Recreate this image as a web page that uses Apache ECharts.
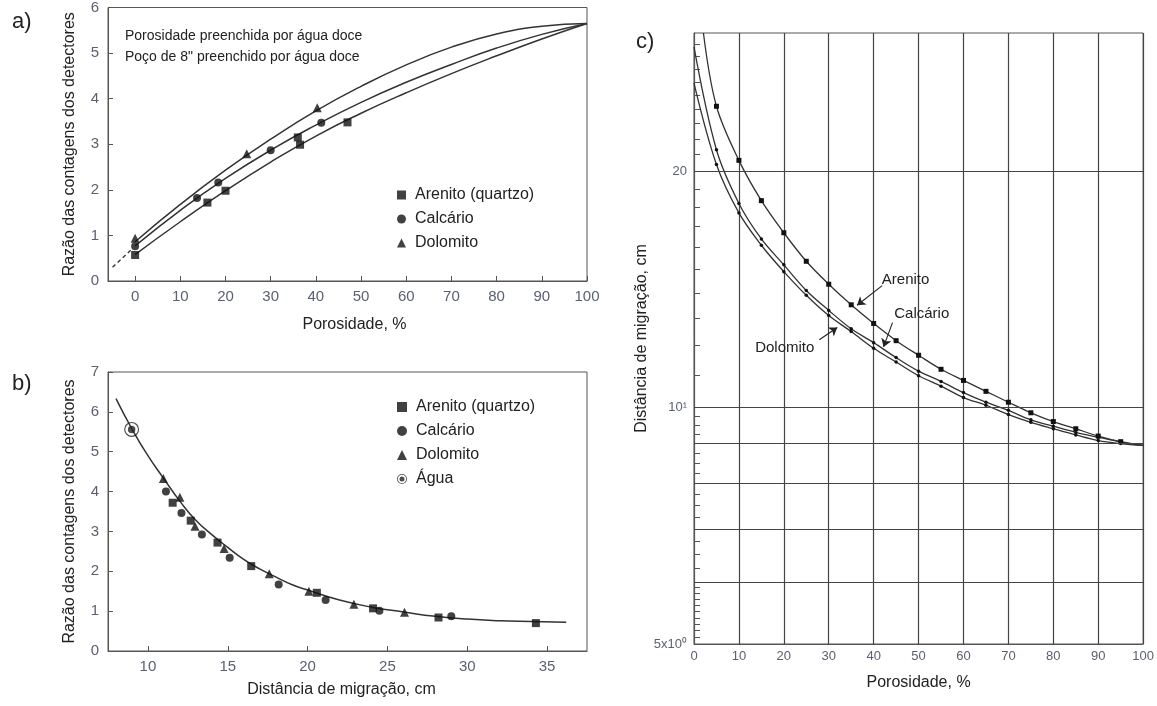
<!DOCTYPE html>
<html><head><meta charset="utf-8">
<script src="https://cdn.jsdelivr.net/npm/echarts@6/dist/echarts.min.js"></script>
<style>html,body{margin:0;padding:0;background:#fff}#c{width:1157px;height:706px}</style>
</head><body><div id="c"></div>
<script>
// ---------- Panel a ----------
const aXTicks = [0,10,20,30,40,50,60,70,80,90,100];
const aArenito = [[0,0.57],[16,1.72],[20,1.98],[36,3.15],[36.5,2.99],[47,3.48]];
const aCalcario = [[0,0.76],[13.7,1.82],[18.4,2.16],[30,2.87],[41.2,3.47]];
const aDolomito = [[0,0.94],[24.7,2.79],[40.3,3.8]];
const aCurveX = [0,10,20,30,40,50,60,70,80,90,100];
const aCurveArenito = [0.58,1.30,1.98,2.61,3.18,3.68,4.13,4.55,4.94,5.31,5.65];
const aCurveCalcario = [0.77,1.55,2.25,2.87,3.42,3.92,4.36,4.75,5.11,5.41,5.65];
const aCurveDolomito = [0.86,1.68,2.43,3.11,3.73,4.27,4.74,5.13,5.42,5.59,5.65];
const aDashed = [[-5,0.3],[-0.5,0.72]];
const aNotes = ['Porosidade preenchida por água doce','Poço de 8" preenchido por água doce'];

// ---------- Panel b ----------
const bXTicks = [10,15,20,25,30,35];
const bArenito = [[11.55,3.72],[12.68,3.27],[14.36,2.72],[16.47,2.13],[20.58,1.46],[24.1,1.07],[28.2,0.84],[34.3,0.70]];
const bCalcario = [[11.13,4.0],[12.1,3.46],[13.38,2.92],[15.12,2.34],[18.19,1.67],[21.13,1.28],[24.5,1.01],[29.0,0.87]];
const bDolomito = [[10.97,4.33],[12.0,3.86],[12.95,3.13],[14.77,2.57],[17.6,1.94],[20.08,1.50],[22.9,1.17],[26.07,0.97]];
const bAgua = [[8.98,5.56]];
const bCurveX = [8.0,9,10,11,12,13,14,15,16,17,18,19,20,22,24,26,28,30,32,34,36.2];
const bCurveY = [6.33,5.57,4.9,4.32,3.76,3.28,2.92,2.6,2.3,2.06,1.86,1.67,1.53,1.28,1.1,0.98,0.87,0.8,0.76,0.74,0.72];

// ---------- Panel c ----------
const cX = [5,10,15,20,25,30,35,40,45,50,55,60,65,70,75,80,85,90,95];
const cArenito = [24.2,20.65,18.35,16.7,15.36,14.36,13.52,12.8,12.17,11.66,11.19,10.83,10.49,10.16,9.85,9.6,9.4,9.2,9.05];
const cCalcario = [21.3,18.2,16.4,15.2,14.1,13.3,12.6,12.1,11.58,11.13,10.8,10.45,10.16,9.92,9.65,9.47,9.3,9.17,9.04];
const cDolomito = [20.4,17.7,16.1,14.9,13.9,13.1,12.5,11.9,11.43,10.98,10.65,10.3,10.07,9.8,9.58,9.4,9.23,9.08,9.0];
const cArenitoEnds = [[2.1,30],[100,8.95]];
const cCalcarioEnds = [[0,28.8],[100,8.95]];
const cDolomitoEnds = [[0,25.9],[100,8.95]];
const cYLabelValues = [5,10,20];
const cYLabelTexts = ['5x10⁰','10¹','20'];
const cGridValues = [6,7,8,9,10,20];
const cMinorTicks = [5.1,5.2,5.3,5.4,5.5,5.6,5.7,5.8,5.9,6.25,6.5,6.75,7.25,7.5,7.75,8.25,8.5,8.75,9.25,9.5,9.75,
  11,12,13,14,15,16,17,18,19,21,22,23,24,25,26,27,28,29];
const cLabels = [['Arenito',47.1,14.56],['Calcário',50.7,13.18],['Dolomito',20.2,11.9]];
const cArrows = [[[41.9,14.3],[36.3,13.5]],[[44.2,12.83],[42.2,11.95]],[[27.9,12.2],[31.9,12.65]]];

const tickFont = "'Liberation Sans Narrow','Arial Narrow',sans-serif";
const textFont = "'Liberation Sans',Arial,sans-serif";
const lineCol = '#333';
const axisCol = '#555';
const labCol = '#5a6072';
const mk = '#111';
const aguaPath = 'path://M10 0A10 10 0 1 1 -10 0A10 10 0 1 1 10 0ZM8.4 0A8.4 8.4 0 1 0 -8.4 0A8.4 8.4 0 1 0 8.4 0ZM5 0A5 5 0 1 1 -5 0A5 5 0 1 1 5 0Z';

const zip = (xs, ys) => xs.map((x,i)=>[x, ys[i]]);
const nameStyle = {color:'#222', fontSize:16, fontFamily:textFont};
function valAxis(o){
  return Object.assign({
    type:'value',
    axisLine:{show:true, onZero:false, lineStyle:{color:axisCol, width:1}},
    axisTick:{show:true, inside:true, length:5, lineStyle:{color:axisCol}},
    axisLabel:{color:labCol, fontSize:15, fontFamily:tickFont},
    splitLine:{show:false},
    nameLocation:'middle', nameTextStyle:nameStyle
  }, o);
}
function cLine(name, ys, ends, sym, size){
  const data = [{value:ends[0], symbol:'none'}].concat(zip(cX, ys)).concat([{value:ends[1], symbol:'none'}]);
  return {name, type:'line', xAxisIndex:2, yAxisIndex:2, data, smooth:0.35, symbol:sym, symbolSize:size,
    showAllSymbol:true, itemStyle:{color:mk}, lineStyle:{color:lineCol, width:1.3}, silent:true, z:4};
}

const option = {
  animation:false,
  backgroundColor:'#fff',
  grid:[
    {left:108, top:6, width:479, height:275, show:true, borderColor:axisCol, borderWidth:1},
    {left:108, top:372, width:479, height:279, show:true, borderColor:axisCol, borderWidth:1},
    {left:694, top:33, width:452, height:611, show:true, borderColor:axisCol, borderWidth:1}
  ],
  xAxis:[
    valAxis({gridIndex:0, min:-6, max:100, name:'Porosidade, %', nameGap:36,
      nameTextStyle:Object.assign({}, nameStyle, {padding:[0,0,0,14]}),
      axisTick:{inside:true, length:5, customValues:aXTicks, lineStyle:{color:axisCol}},
      axisLabel:{customValues:aXTicks, color:labCol, fontSize:15, fontFamily:tickFont, margin:8}}),
    valAxis({gridIndex:1, min:7.5, max:37.5, name:'Distância de migração, cm', nameGap:31,
      nameTextStyle:Object.assign({}, nameStyle, {padding:[0,12,0,0]}),
      axisTick:{inside:true, length:5, customValues:bXTicks, lineStyle:{color:axisCol}},
      axisLabel:{customValues:bXTicks, color:labCol, fontSize:15, fontFamily:tickFont, margin:8}}),
    valAxis({gridIndex:2, min:0, max:100, interval:10, name:'Porosidade, %', nameGap:31,
      axisTick:{show:false},
      axisLabel:{color:labCol, fontSize:13, fontFamily:tickFont, margin:6},
      splitLine:{show:true, lineStyle:{color:'#444', width:1.2}}})
  ],
  yAxis:[
    valAxis({gridIndex:0, min:0, max:6, interval:1, name:'Razão das contagens dos detectores', nameGap:30,
      axisLabel:{color:labCol, fontSize:15, fontFamily:tickFont, margin:9}}),
    valAxis({gridIndex:1, min:0, max:7, interval:1, name:'Razão das contagens dos detectores', nameGap:30,
      axisLabel:{color:labCol, fontSize:15, fontFamily:tickFont, margin:9}}),
    {gridIndex:2, type:'log', logBase:10, min:5, max:30, name:'Distância de migração, cm', nameLocation:'middle', nameGap:36,
      nameTextStyle:nameStyle,
      axisLine:{show:true, onZero:false, lineStyle:{color:axisCol}},
      axisTick:{show:true, inside:true, length:6, customValues:cMinorTicks, lineStyle:{color:axisCol}},
      axisLabel:{customValues:cYLabelValues, color:labCol, fontSize:13, fontFamily:tickFont, margin:7,
        formatter:(v)=>{const i=cYLabelValues.indexOf(Math.round(v*1000)/1000); return i>=0?cYLabelTexts[i]:'';}},
      splitLine:{show:false}}
  ],
  legend:[
    {left:392, top:180, orient:'vertical', itemGap:4, itemWidth:9, itemHeight:9, selectedMode:false,
      textStyle:{color:'#222', fontSize:16, fontFamily:textFont, lineHeight:20, padding:[0,0,0,4]},
      data:['Arenito (quartzo)','Calcário','Dolomito']},
    {left:392, top:392, orient:'vertical', itemGap:4, itemWidth:10, itemHeight:10, selectedMode:false,
      textStyle:{color:'#222', fontSize:16, fontFamily:textFont, lineHeight:20, padding:[0,0,0,4]},
      data:['Arenito (quartzo)','Calcário','Dolomito','Água']}
  ],
  graphic:[
    {type:'text', left:12, top:11, style:{text:'a)', fontSize:22, fontFamily:textFont, fill:'#222'}},
    {type:'text', left:12, top:373, style:{text:'b)', fontSize:22, fontFamily:textFont, fill:'#222'}},
    {type:'text', left:636, top:31, style:{text:'c)', fontSize:22, fontFamily:textFont, fill:'#222'}},
    {type:'text', left:125, top:29, style:{text:aNotes[0], fontSize:14, fontFamily:textFont, fill:'#222'}},
    {type:'text', left:125, top:50, style:{text:aNotes[1], fontSize:14, fontFamily:textFont, fill:'#222'}}
  ],
  series:[
    // panel a markers
    {name:'Arenito (quartzo)', type:'scatter', xAxisIndex:0, yAxisIndex:0, data:aArenito, symbol:'rect', symbolSize:8, itemStyle:{color:mk}, z:5},
    {name:'Calcário', type:'scatter', xAxisIndex:0, yAxisIndex:0, data:aCalcario, symbol:'circle', symbolSize:8, itemStyle:{color:mk}, z:5},
    {name:'Dolomito', type:'scatter', xAxisIndex:0, yAxisIndex:0, data:aDolomito, symbol:'triangle', symbolSize:9, itemStyle:{color:mk}, z:5},
    // panel b markers
    {name:'Arenito (quartzo)', type:'scatter', xAxisIndex:1, yAxisIndex:1, data:bArenito, symbol:'rect', symbolSize:8, itemStyle:{color:mk}, z:5},
    {name:'Calcário', type:'scatter', xAxisIndex:1, yAxisIndex:1, data:bCalcario, symbol:'circle', symbolSize:8, itemStyle:{color:mk}, z:5},
    {name:'Dolomito', type:'scatter', xAxisIndex:1, yAxisIndex:1, data:bDolomito, symbol:'triangle', symbolSize:9, itemStyle:{color:mk}, z:5},
    {name:'Água', type:'scatter', xAxisIndex:1, yAxisIndex:1, data:bAgua, symbol:aguaPath, symbolSize:15, itemStyle:{color:'#222'}, z:5},
    // panel a curves
    {name:'curva a Arenito', type:'line', xAxisIndex:0, yAxisIndex:0, data:zip(aCurveX,aCurveArenito), smooth:true, showSymbol:false, lineStyle:{color:lineCol, width:1.5}, silent:true},
    {name:'curva a Calcário', type:'line', xAxisIndex:0, yAxisIndex:0, data:zip(aCurveX,aCurveCalcario), smooth:true, showSymbol:false, lineStyle:{color:lineCol, width:1.5}, silent:true},
    {name:'curva a Dolomito', type:'line', xAxisIndex:0, yAxisIndex:0, data:zip(aCurveX,aCurveDolomito), smooth:true, showSymbol:false, lineStyle:{color:lineCol, width:1.5}, silent:true},
    {name:'extrapolação a', type:'line', xAxisIndex:0, yAxisIndex:0, data:aDashed, showSymbol:false, lineStyle:{color:lineCol, width:1.3, type:[4,3]}, silent:true},
    // panel b curve
    {name:'curva b', type:'line', xAxisIndex:1, yAxisIndex:1, data:zip(bCurveX,bCurveY), smooth:true, showSymbol:false, lineStyle:{color:lineCol, width:1.5}, silent:true},
    // panel c
    cLine('c Arenito', cArenito, cArenitoEnds, 'rect', 5),
    cLine('c Calcário', cCalcario, cCalcarioEnds, 'circle', 3.5),
    cLine('c Dolomito', cDolomito, cDolomitoEnds, 'circle', 3.5),
    {name:'c anotações', type:'scatter', xAxisIndex:2, yAxisIndex:2, data:[], silent:true,
      markLine:{silent:true, symbol:'none', animation:false, label:{show:false},
        lineStyle:{color:'#444', width:1.2, type:'solid'},
        data:cGridValues.map(v=>({yAxis:v}))},
      markPoint:{silent:true, symbol:'circle', symbolSize:1, itemStyle:{color:'rgba(0,0,0,0)'},
        label:{show:true, position:'inside', color:'#222', fontSize:15, fontFamily:textFont, formatter:'{b}'},
        data:cLabels.map(l=>({name:l[0], coord:[l[1],l[2]]}))}
    },
    {name:'c setas', type:'scatter', xAxisIndex:2, yAxisIndex:2, data:[], silent:true,
      markLine:{silent:true, symbol:['none','arrow'], symbolSize:8, animation:false, label:{show:false},
        lineStyle:{color:'#222', width:1.1, type:'solid'},
        data:cArrows.map(a=>[{coord:a[0]},{coord:a[1]}])}
    }
  ]
};
const chart = echarts.init(document.getElementById('c'), null, {renderer:'canvas'});
chart.setOption(option);
</script>
</body></html>
